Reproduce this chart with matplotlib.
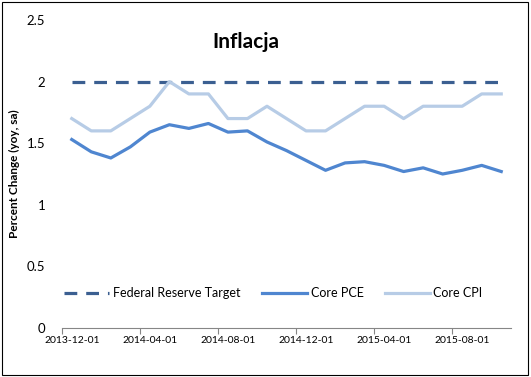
from matplotlib import pyplot as plt
from matplotlib.patches import Rectangle
import numpy as np

plt.rcParams['font.family'] = ['Lato', 'DejaVu Sans']

months = ['2013-12-01', '2014-01-01', '2014-02-01', '2014-03-01', '2014-04-01',
          '2014-05-01', '2014-06-01', '2014-07-01', '2014-08-01', '2014-09-01',
          '2014-10-01', '2014-11-01', '2014-12-01', '2015-01-01', '2015-02-01',
          '2015-03-01', '2015-04-01', '2015-05-01', '2015-06-01', '2015-07-01',
          '2015-08-01', '2015-09-01', '2015-10-01']
fed_target = [2.0] * 23
core_pce = [1.53, 1.43, 1.38, 1.47, 1.59, 1.65, 1.62, 1.66, 1.59, 1.60,
            1.51, 1.44, 1.36, 1.28, 1.34, 1.35, 1.32, 1.27, 1.30, 1.25,
            1.28, 1.32, 1.27]
core_cpi = [1.7, 1.6, 1.6, 1.7, 1.8, 2.0, 1.9, 1.9, 1.7, 1.7, 1.8, 1.7,
            1.6, 1.6, 1.7, 1.8, 1.8, 1.7, 1.8, 1.8, 1.8, 1.9, 1.9]

fig = plt.figure(figsize=(5.31, 3.77), dpi=100)
fig.patches.append(Rectangle((1.5 / 531, 1 - 375 / 377), 526 / 531, 373 / 377,
                             transform=fig.transFigure, fill=False,
                             edgecolor='black', linewidth=0.8))
ax = fig.add_axes([62 / 531, 1 - 328 / 377, 449 / 531, 308 / 377])

x = np.arange(len(months))
ax.plot(x, fed_target, color='#3B5F91', linewidth=2.3, dashes=(4, 2.8),
        dash_capstyle='butt', label='Federal Reserve Target')
ax.plot(x, core_pce, color='#4F86D0', linewidth=2.3, label='Core PCE')
ax.plot(x, core_cpi, color='#B7CCE6', linewidth=2.3, label='Core CPI')

ax.set_xlim(-0.5, len(months) - 0.5)
ax.set_ylim(0, 2.5)
ax.set_yticks([0, 0.5, 1, 1.5, 2, 2.5])
ax.set_yticklabels(['0', '0.5', '1', '1.5', '2', '2.5'])

# labels sit in the middle of a category, tick marks on the boundaries
ax.set_xticks(x[::4])
ax.set_xticklabels(months[::4])
ax.set_xticks(np.arange(-0.5, len(months) - 1, 4), minor=True)
ax.tick_params(axis='x', which='major', length=0, labelsize=7.5, pad=6)
ax.tick_params(axis='x', which='minor', length=4, color='#868686', width=0.8)
ax.tick_params(axis='y', length=0, labelsize=9.5, pad=12)

for s in ['top', 'right', 'left']:
    ax.spines[s].set_visible(False)
ax.spines['bottom'].set_color('#868686')
ax.spines['bottom'].set_linewidth(0.8)

ax.set_ylabel('Percent Change (yoy, sa)', fontsize=8.5, fontweight='bold', labelpad=5)
fig.text(246 / 531, 1 - 42 / 377, 'Inflacja', fontsize=15, fontweight='bold',
         ha='center', va='center')

ax.legend(loc='center', bbox_to_anchor=(0.471, 0.114), ncol=3, frameon=False,
          fontsize=9, handlelength=3.6, columnspacing=1.7, handletextpad=0.3)

plt.savefig('out.png', dpi=100)
